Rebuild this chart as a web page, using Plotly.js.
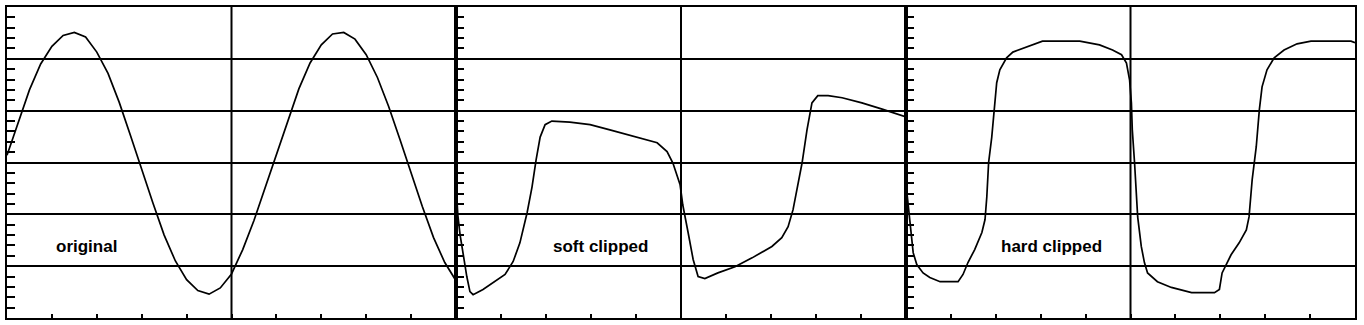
<!DOCTYPE html>
<html>
<head>
<meta charset="utf-8">
<script src="https://cdn.plot.ly/plotly-3.0.1.min.js"></script>
<style>html,body{margin:0;padding:0;background:#fff;}#chart{width:1364px;height:325px;}</style>
</head>
<body>
<div id="chart"></div>
<script>
// Panel labels
const panelLabels = ["original", "soft clipped", "hard clipped"];

// Panel 1: original (x in divisions 0..10, y in divisions -3..3)
const origX = [0,0.25,0.5,0.75,1,1.25,1.5,1.75,2,2.25,2.5,2.75,3,3.25,3.5,3.75,4,4.25,4.5,4.75,5,5.25,5.5,5.75,6,6.25,6.5,6.75,7,7.25,7.5,7.75,8,8.25,8.5,8.75,9,9.25,9.5,9.75,10];
const origY = [0.14,0.78,1.40,1.9,2.24,2.45,2.51,2.42,2.13,1.72,1.16,0.52,-0.14,-0.78,-1.4,-1.9,-2.26,-2.47,-2.54,-2.42,-2.15,-1.68,-1.12,-0.48,0.17,0.82,1.42,1.92,2.27,2.48,2.51,2.38,2.08,1.64,1.08,0.45,-0.2,-0.85,-1.45,-1.93,-2.28];

// Panel 2: soft clipped
const softX = [0,0.04,0.09,0.16,0.24,0.31,0.38,0.6,0.82,1.09,1.27,1.42,1.58,1.69,1.78,1.87,1.98,2.13,2.53,2.98,3.42,4.02,4.47,4.69,4.82,4.98,5.04,5.16,5.27,5.38,5.53,5.82,6.2,6.58,7.02,7.24,7.38,7.49,7.6,7.69,7.8,7.91,8.04,8.27,8.58,9.02,9.47,10];
const softY = [-0.39,-1.01,-1.39,-1.78,-2.2,-2.49,-2.55,-2.45,-2.32,-2.16,-1.91,-1.55,-0.97,-0.47,0.05,0.49,0.73,0.8,0.78,0.73,0.63,0.49,0.38,0.21,-0.01,-0.43,-0.82,-1.36,-1.87,-2.2,-2.24,-2.13,-2.01,-1.84,-1.62,-1.45,-1.24,-0.91,-0.39,-0.01,0.63,1.15,1.29,1.29,1.25,1.15,1.03,0.88];

// Panel 3: hard clipped
const hardX = [0.02,0.09,0.13,0.16,0.24,0.38,0.53,0.76,1.16,1.27,1.38,1.53,1.69,1.76,1.8,1.84,1.91,1.96,2.02,2.09,2.24,2.38,2.69,3.04,3.87,4.31,4.6,4.8,4.91,4.98,5.02,5.04,5.09,5.16,5.24,5.31,5.38,5.6,5.91,6.36,6.87,6.98,7.04,7.13,7.24,7.42,7.58,7.64,7.71,7.8,7.87,7.93,8.04,8.2,8.42,8.71,9.02,9.91,10];
const hardY = [-0.58,-1.1,-1.43,-1.74,-1.97,-2.13,-2.22,-2.3,-2.3,-2.16,-1.93,-1.68,-1.35,-1.1,-0.66,0,0.49,1.02,1.54,1.79,2.02,2.13,2.23,2.34,2.34,2.27,2.17,2.08,1.92,1.59,1.15,0.63,0,-1.05,-1.62,-1.93,-2.13,-2.3,-2.41,-2.51,-2.51,-2.45,-2.13,-1.97,-1.78,-1.55,-1.3,-1.05,-0.33,0.3,1.02,1.46,1.79,2.02,2.17,2.29,2.34,2.34,2.31];

// label positions (data coords in each panel)
const labelX = [1.78, 3.2, 3.24];
const labelY = [-1.62, -1.62, -1.62];

const lineStyle = {color: "#000", width: 1.7};
const traces = [
  {x: origX, y: origY, xaxis: "x", yaxis: "y", mode: "lines", line: lineStyle, hoverinfo: "skip"},
  {x: softX, y: softY, xaxis: "x2", yaxis: "y2", mode: "lines", line: lineStyle, hoverinfo: "skip"},
  {x: hardX, y: hardY, xaxis: "x3", yaxis: "y3", mode: "lines", line: lineStyle, hoverinfo: "skip"}
];

const W = 1364, L = 7, R = 9;
const plotW = W - L - R;
const b1 = (456 - L) / plotW, b2 = (906 - L) / plotW;
const domains = [[0, b1], [b1, b2], [b2, 1]];

function xax(dom, anchor) {
  return {domain: dom, anchor: anchor, range: [0, 10], tickmode: "linear", tick0: 0, dtick: 1,
    ticks: "inside", ticklen: 4, tickwidth: 2, tickcolor: "#000", showticklabels: false,
    showgrid: false, zeroline: false, showline: true, mirror: true, linecolor: "#000", linewidth: 2, fixedrange: true};
}
function yax(anchor) {
  return {domain: [0, 1], anchor: anchor, range: [-3, 3], tickmode: "linear", tick0: 0, dtick: 1,
    ticks: "inside", ticklen: 8, tickwidth: 2, tickcolor: "#000", showticklabels: false,
    showgrid: true, gridcolor: "#000", gridwidth: 2, zeroline: false,
    minor: {dtick: 0.2, tick0: 0, ticks: "inside", ticklen: 8, tickwidth: 2, tickcolor: "#000", showgrid: false},
    showline: true, mirror: true, linecolor: "#000", linewidth: 2, fixedrange: true};
}

const shapes = [], annotations = [];
["", "2", "3"].forEach((s, i) => {
  shapes.push({type: "line", xref: "x" + s, yref: "y" + s, x0: 5, x1: 5, y0: -3, y1: 3, line: {color: "#000", width: 2}, layer: "below"});
  annotations.push({xref: "x" + s, yref: "y" + s, x: labelX[i], y: labelY[i], text: "<b>" + panelLabels[i] + "</b>",
    showarrow: false, font: {family: "Liberation Sans, Arial, sans-serif", size: 17, color: "#000"}, xanchor: "center", yanchor: "middle"});
});

const layout = {
  width: W, height: 325,
  margin: {l: L, r: R, t: 7, b: 7, pad: 0},
  paper_bgcolor: "#fff", plot_bgcolor: "#fff",
  showlegend: false,
  xaxis: xax(domains[0], "y"), yaxis: yax("x"),
  xaxis2: xax(domains[1], "y2"), yaxis2: yax("x2"),
  xaxis3: xax(domains[2], "y3"), yaxis3: yax("x3"),
  shapes: shapes, annotations: annotations
};

Plotly.newPlot("chart", traces, layout, {staticPlot: true, displayModeBar: false});
</script>
</body>
</html>
